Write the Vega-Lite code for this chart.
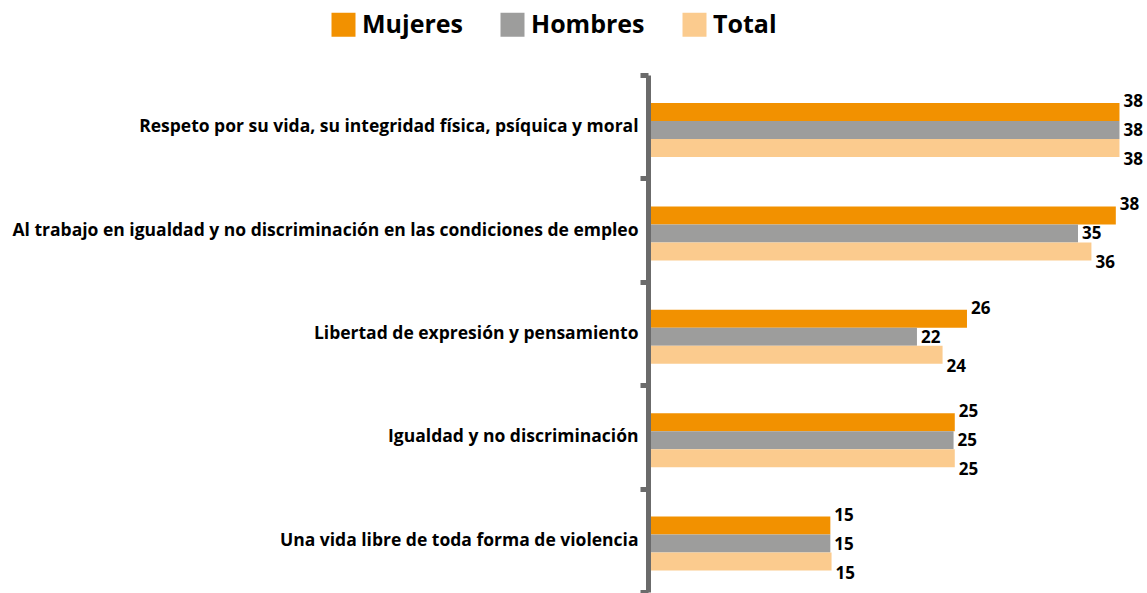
{
  "$schema": "https://vega.github.io/schema/vega-lite/v6.json",
  "autosize": "none",
  "width": 488,
  "height": 517,
  "padding": {"left": 651, "top": 75, "right": 8, "bottom": 1},
  "background": "white",
  "config": {
    "view": {"stroke": null},
    "font": "Open Sans"
  },
  "data": {
    "values": [
      {"cat": "Respeto por su vida, su integridad física, psíquica y moral", "serie": "Mujeres", "valor": 38.4},
      {"cat": "Respeto por su vida, su integridad física, psíquica y moral", "serie": "Hombres", "valor": 38.4},
      {"cat": "Respeto por su vida, su integridad física, psíquica y moral", "serie": "Total", "valor": 38.4},
      {"cat": "Al trabajo en igualdad y no discriminación en las condiciones de empleo", "serie": "Mujeres", "valor": 38.1},
      {"cat": "Al trabajo en igualdad y no discriminación en las condiciones de empleo", "serie": "Hombres", "valor": 35.0},
      {"cat": "Al trabajo en igualdad y no discriminación en las condiciones de empleo", "serie": "Total", "valor": 36.1},
      {"cat": "Libertad de expresión y pensamiento", "serie": "Mujeres", "valor": 25.9},
      {"cat": "Libertad de expresión y pensamiento", "serie": "Hombres", "valor": 21.8},
      {"cat": "Libertad de expresión y pensamiento", "serie": "Total", "valor": 23.9},
      {"cat": "Igualdad y no discriminación", "serie": "Mujeres", "valor": 24.9},
      {"cat": "Igualdad y no discriminación", "serie": "Hombres", "valor": 24.8},
      {"cat": "Igualdad y no discriminación", "serie": "Total", "valor": 24.9},
      {"cat": "Una vida libre de toda forma de violencia", "serie": "Mujeres", "valor": 14.7},
      {"cat": "Una vida libre de toda forma de violencia", "serie": "Hombres", "valor": 14.7},
      {"cat": "Una vida libre de toda forma de violencia", "serie": "Total", "valor": 14.8}
    ]
  },
  "encoding": {
    "y": {
      "field": "cat",
      "type": "nominal",
      "sort": null,
      "scale": {"paddingInner": 0, "paddingOuter": 0},
      "axis": {
        "title": null,
        "offset": 3,
        "domainColor": "#6b6b6b",
        "domainWidth": 5,
        "tickColor": "#6b6b6b",
        "tickWidth": 5,
        "tickSize": 8,
        "tickBand": "extent",
        "labelPadding": 2,
        "labelFont": "Open Sans",
        "labelFontSize": 17.5,
        "labelFontWeight": "bold",
        "labelColor": "#000000",
        "labelLimit": 800
      }
    },
    "yOffset": {
      "field": "serie",
      "type": "nominal",
      "sort": ["Mujeres", "Hombres", "Total"],
      "scale": {"domain": ["Mujeres", "Hombres", "Total"], "range": [28, 82], "paddingInner": 0, "paddingOuter": 0}
    },
    "x": {
      "field": "valor",
      "type": "quantitative",
      "scale": {"domain": [0, 40], "nice": false},
      "axis": null
    }
  },
  "layer": [
    {
      "mark": {"type": "bar"},
      "encoding": {
        "color": {
          "field": "serie",
          "type": "nominal",
          "sort": ["Mujeres", "Hombres", "Total"],
          "scale": {"domain": ["Mujeres", "Hombres", "Total"], "range": ["#F29100", "#9D9D9C", "#FBCB8E"]},
          "legend": {
            "title": null,
            "orient": "none",
            "direction": "horizontal",
            "legendX": -320,
            "legendY": -63,
            "padding": 0,
            "symbolType": "square",
            "symbolSize": 576,
            "symbolStrokeWidth": 0,
            "symbolOpacity": 1,
            "labelFont": "Open Sans",
            "labelFontSize": 25,
            "labelFontWeight": "bold",
            "labelColor": "#000000",
            "labelOffset": 6,
            "columnPadding": 37
          }
        }
      }
    },
    {
      "transform": [{"filter": "datum.serie === 'Mujeres'"}],
      "mark": {"type": "text", "align": "left", "baseline": "middle", "dx": 4, "dy": -10, "font": "Open Sans", "fontSize": 17, "fontWeight": "bold", "color": "#000000"},
      "encoding": {"text": {"field": "valor", "type": "quantitative", "format": ".0f"}}
    },
    {
      "transform": [{"filter": "datum.serie === 'Hombres'"}],
      "mark": {"type": "text", "align": "left", "baseline": "middle", "dx": 4, "dy": 1, "font": "Open Sans", "fontSize": 17, "fontWeight": "bold", "color": "#000000"},
      "encoding": {"text": {"field": "valor", "type": "quantitative", "format": ".0f"}}
    },
    {
      "transform": [{"filter": "datum.serie === 'Total'"}],
      "mark": {"type": "text", "align": "left", "baseline": "middle", "dx": 4, "dy": 12, "font": "Open Sans", "fontSize": 17, "fontWeight": "bold", "color": "#000000"},
      "encoding": {"text": {"field": "valor", "type": "quantitative", "format": ".0f"}}
    }
  ]
}
